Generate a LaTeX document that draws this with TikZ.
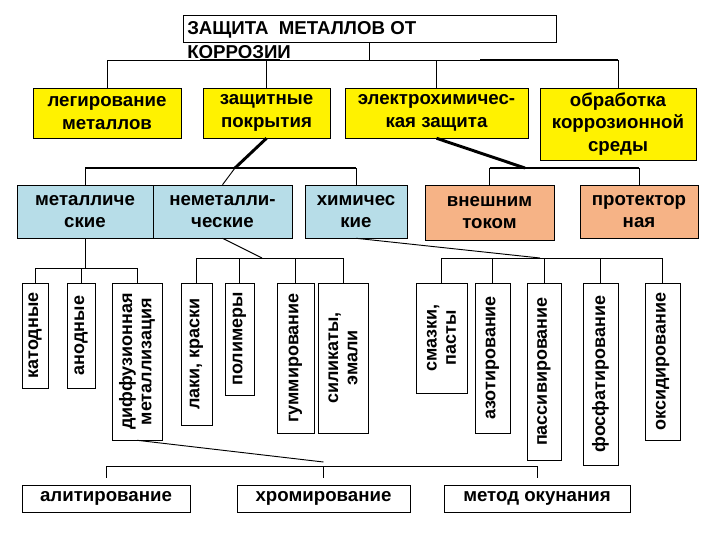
\documentclass[tikz,border=0pt]{standalone}
\usepackage{fontspec}
\setmainfont{Liberation Sans}
\begin{document}
\begin{tikzpicture}[x=0.75pt,y=-0.75pt,
  bx/.style={draw,inner sep=1pt,align=center,font=\fontsize{14}{17}\selectfont\bfseries},
  yel/.style={bx,fill=yellow},
  blu/.style={bx,fill=blueL},
  org/.style={bx,fill=orangeL},
  vb/.style={bx,fill=white,rotate=90,font=\fontsize{13.5}{14.5}\selectfont\bfseries},
  wb/.style={bx,fill=white,font=\fontsize{14}{17}\selectfont\bfseries},
  ln/.style={line width=0.7pt},
  thk/.style={line width=2.2pt}]
\definecolor{blueL}{HTML}{B7DDE8}
\definecolor{orangeL}{HTML}{F6B386}
\useasboundingbox[fill=white] (0,0) rectangle (720,540);
\newcommand\hb[7]{\node[#6, minimum width={(#4-#2)*0.75pt}, minimum height={(#5-#3)*0.75pt}] (#1) at ({(#2+#4)/2},{(#3+#5)/2}) {#7};}
\newcommand\vbx[6]{\node[vb, minimum width={(#5-#3)*0.75pt}, minimum height={(#4-#2)*0.75pt}] (#1) at ({(#2+#4)/2},{(#3+#5)/2}) {#6};}
% title
\hb{title}{183}{15}{556}{42}{draw,fill=white}{}
\node[anchor=north west,align=left,inner sep=0pt,font=\fontsize{14}{18}\selectfont\bfseries] (titletext) at (187,21) {ЗАЩИТА\ \ МЕТАЛЛОВ ОТ\\КОРРОЗИИ};
% level 1
\hb{leg}{33}{88}{181}{138}{yel}{легирование\\металлов}
\hb{zas}{203}{88}{330}{138}{yel}{защитные\\покрытия}
\hb{ele}{345}{88}{528}{138}{yel}{электрохимичес-\\кая защита}
\hb{obr}{540}{88}{696}{160}{yel}{обработка\\коррозионной\\среды}
% level 2
\hb{met}{17}{185}{153}{238}{blu}{металличе\\ские}
\hb{nem}{153}{185}{292}{238}{blu}{неметалли-\\ческие}
\hb{him}{305}{185}{407}{238}{blu}{химичес\\кие}
\hb{vne}{425}{185}{554}{240}{org}{внешним\\током}
\hb{pro}{580}{185}{698}{238}{org}{протектор\\ная}
% level 3
\vbx{kat}{22}{283}{48}{388}{катодные}
\vbx{ano}{67}{283}{95}{388}{анодные}
\vbx{dif}{112}{283}{162}{440}{диффузионная\\металлизация}
\vbx{lak}{181}{283}{212}{425}{лаки, краски}
\vbx{pol}{225}{283}{254}{395}{полимеры}
\vbx{gum}{277}{283}{314}{433}{гуммирование}
\vbx{sil}{318}{283}{368}{433}{силикаты,\\эмали}
\vbx{sma}{416}{283}{467}{393}{смазки,\\пасты}
\vbx{azo}{475}{283}{510}{433}{азотирование}
\vbx{pas}{527}{283}{561}{460}{пассивирование}
\vbx{fos}{583}{283}{618}{465}{фосфатирование}
\vbx{oks}{645}{283}{680}{440}{оксидирование}
% bottom
\hb{ali}{22}{485}{190}{512}{wb}{алитирование}
\hb{hro}{237}{485}{410}{512}{wb}{хромирование}
\hb{mok}{444}{485}{630}{512}{wb}{метод окунания}
% connectors level 1
\draw[ln] (title.south) -- (title.south |- 0,60);
\draw[ln] (leg.north) -- (leg.north |- 0,60) -| (obr.north);
\draw[thk] (title.south |- 0,60) ++(-170,0) -- ++(80,0);
\draw[thk] (480,60) -- (obr.north |- 0,60);
\draw[ln] (zas.north) -- (zas.north |- 0,60);
\draw[ln] (ele.north) -- (ele.north |- 0,60);
% level 2
\coordinate (b2) at (235,168);
\draw[thk] (zas.south) -- (b2);
\draw[thk] (met.north |- b2) -- (him.north |- b2);
\draw[ln] (met.north |- b2) -- (met.north);
\draw[ln] (b2) -- (nem.north);
\draw[ln] (him.north |- b2) -- (him.north);
\coordinate (b3) at (525,168);
\draw[thk] (ele.south) -- (b3);
\draw[thk] (vne.north |- b3) -- (pro.north |- b3);
\draw[ln] (vne.north |- b3) -- (vne.north);
\draw[ln] (pro.north |- b3) -- (pro.north);
% level 3
\draw[ln] (met.south) -- (met.south |- 0,268);
\draw[ln] (kat.east |- 0,268) -- (dif.east |- 0,268);
\foreach \n in {kat,ano,dif} \draw[ln] (\n.east |- 0,268) -- (\n.east);
\coordinate (b4) at (262,258);
\draw[ln] (nem.south) -- (b4);
\draw[ln] (lak.east |- b4) -- (sil.east |- b4);
\foreach \n in {lak,pol,gum,sil} \draw[ln] (\n.east |- b4) -- (\n.east);
\coordinate (b5) at (540,258);
\draw[ln] (him.south) -- (b5);
\draw[ln] (sma.east |- b5) -- (oks.east |- b5);
\foreach \n in {sma,azo,pas,fos,oks} \draw[ln] (\n.east |- b5) -- (\n.east);
% bottom
\coordinate (b6) at (222,466);
\draw[ln] (dif.west) -- (hro.north |- 0,462);
\draw[ln] (ali.north |- b6) -- (mok.north |- b6);
\foreach \n in {ali,hro,mok} \draw[ln] (\n.north |- b6) -- ++(0,12);
\end{tikzpicture}
\end{document}
